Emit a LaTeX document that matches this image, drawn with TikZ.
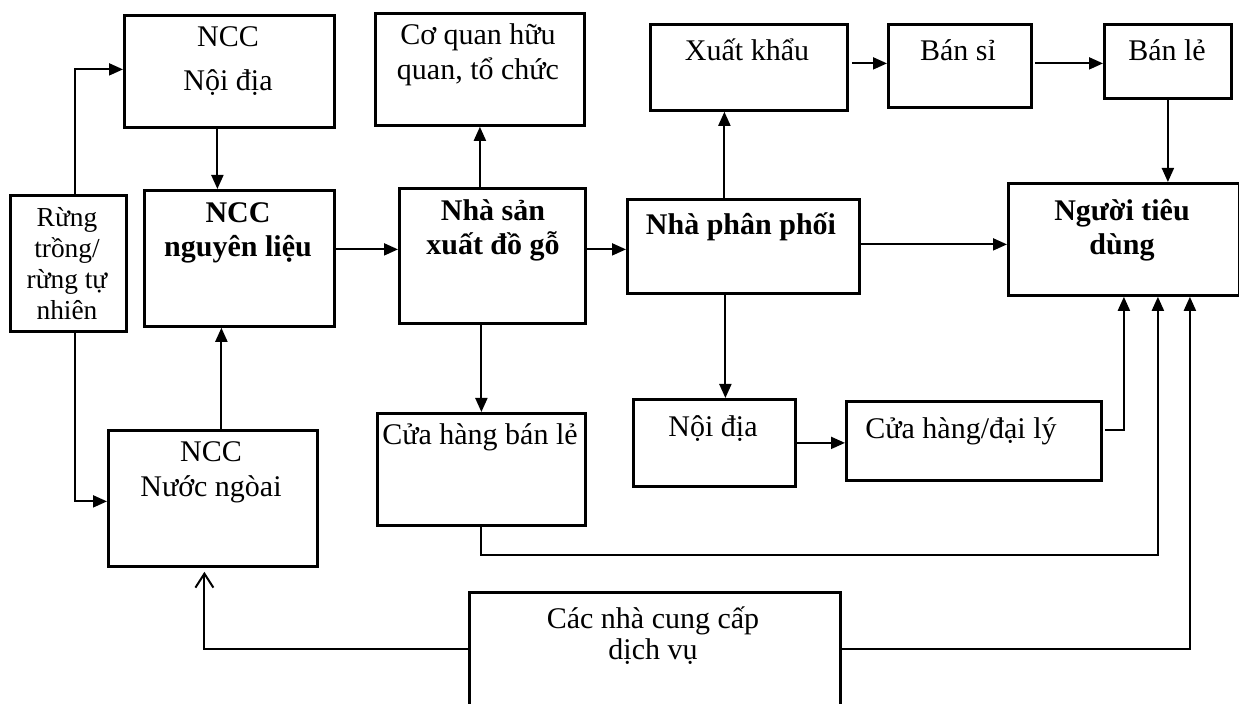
\documentclass[tikz,border=0pt]{standalone}
\usepackage{fontspec}
\setmainfont{Liberation Serif}
\usetikzlibrary{arrows.meta}

\tikzset{
  box/.style={draw, line width=1.4pt, inner sep=0pt, anchor=north west},
  txt/.style={align=center, inner sep=0pt, anchor=base, font=\fontsize{15}{17.5}\selectfont},
  bold/.style={font=\fontsize{15}{17}\selectfont\bfseries},
  link/.style={line width=1pt},
  arr/.style={link, -{Triangle[length=7pt,width=6pt]}},
  openarr/.style={link, -{Straight Barb[length=7pt,width=9pt]}},
}

\begin{document}
\begin{tikzpicture}[x=0.5pt, y=-0.5pt]
\clip (0,0) rectangle (1239,704);
\fill[white] (0,0) rectangle (1239,704);

% ---- boxes ----
\node[box, minimum width=105pt,   minimum height=56pt]   (ncd)  at (123,14)  {};
\node[box, minimum width=58pt,    minimum height=68pt]   (rung) at (9,194)   {};
\node[box, minimum width=95pt,    minimum height=68pt]   (ncl)  at (143,189) {};
\node[box, minimum width=104.5pt, minimum height=68pt]   (nnn)  at (107,429) {};
\node[box, minimum width=104.5pt, minimum height=56pt]   (cq)   at (374,12)  {};
\node[box, minimum width=93pt,    minimum height=67.5pt] (nsx)  at (398,187) {};
\node[box, minimum width=104pt,   minimum height=56pt]   (chbl) at (376,412) {};
\node[box, minimum width=98.5pt,  minimum height=43pt]   (xk)   at (649,23)  {};
\node[box, minimum width=116pt,   minimum height=47pt]   (npp)  at (626,198) {};
\node[box, minimum width=81pt,    minimum height=43.5pt] (nd)   at (632,398) {};
\node[box, minimum width=127.5pt, minimum height=39.5pt] (chdl) at (845,400) {};
\node[box, minimum width=71.5pt,  minimum height=41.5pt] (bs)   at (887,23)  {};
\node[box, minimum width=63.5pt,  minimum height=37pt]   (bl)   at (1103,23) {};
\node[box, minimum width=115.5pt, minimum height=56pt]   (ntd)  at (1007,182) {};
\node[box, minimum width=185.5pt, minimum height=70pt]   (dv)   at (468,591) {};

% ---- labels (anchored at the baseline of the last line) ----
\node[txt, font=\fontsize{15}{22}\selectfont] (t-ncd) at (228,91) {NCC\\Nội địa};
\node[txt, font=\fontsize{13.7}{15.5}\selectfont] (t-rung) at (67,320) {Rừng\\trồng/\\rừng tự\\nhiên};
\node[txt, bold] (t-ncl) at (238,257) {NCC\\nguyên liệu};
\node[txt] (t-nnn) at (211,497) {NCC\\Nước ngòai};
\node[txt] (t-cq) at (478,80) {Cơ quan hữu\\quan, tổ chức};
\node[txt, bold] (t-nsx) at (493,255) {Nhà sản\\xuất đồ gỗ};
\node[txt] (t-chbl) at (480,445) {Cửa hàng bán lẻ};
\node[txt] (t-xk) at (747,61) {Xuất khẩu};
\node[txt, bold] (t-npp) at (741,235) {Nhà phân phối};
\node[txt] (t-nd) at (713,437) {Nội địa};
\node[txt, anchor=base west] (t-chdl) at (865,439) {Cửa hàng/đại lý};
\node[txt] (t-bs) at (958,61) {Bán sỉ};
\node[txt] (t-bl) at (1167,61) {Bán lẻ};
\node[txt, bold] (t-ntd) at (1122,255) {Người tiêu\\dùng};
\node[txt, font=\fontsize{15}{15.5}\selectfont] (t-dv) at (653,660) {Các nhà cung cấp\\dịch vụ};

% ---- connection points ----
\coordinate (a1) at ([xshift=3.5pt]rung.north);
\coordinate (a2) at ([xshift=3.5pt]rung.south);
\coordinate (b1) at ([xshift=-6pt]ncd.south);
\coordinate (c1) at ([xshift=4.25pt]nnn.north);
\coordinate (e1) at ([yshift=4.5pt]ncl.east);
\coordinate (f1) at ([yshift=3.25pt]nsx.east);
\coordinate (i1) at ([xshift=-9.5pt]npp.north);
\coordinate (j1) at ([xshift=-9pt]npp.south);
\coordinate (k1) at ([xshift=1.5pt, yshift=2pt]xk.east);
\coordinate (l1) at ([xshift=1pt, yshift=1.25pt]bs.east);
\coordinate (n1) at ([yshift=1pt]npp.east);
\coordinate (p1) at ([xshift=1pt, yshift=5.25pt]chdl.east);
\coordinate (q0) at ([xshift=17pt]ntd.south);
\coordinate (r0) at ([xshift=33pt]ntd.south);
\coordinate (dvE) at ([yshift=-29pt]dv.north east);
\coordinate (dvW) at ([yshift=-29pt]dv.north west);
\coordinate (s0) at ([xshift=-4.25pt, yshift=-2pt]nnn.south);

% ---- connectors ----
\draw[arr] (a1) |- ([yshift=1pt]ncd.west);
\draw[arr] (a2) |- ([yshift=-1.5pt]nnn.west);
\draw[arr] (b1) -- (b1 |- ncl.north);
\draw[arr] (c1) -- (c1 |- ncl.south);
\draw[arr] (e1) -- (e1 -| nsx.west);
\draw[arr] (f1) -- (f1 -| npp.west);
\draw[arr] (cq.south |- nsx.north) -- (cq.south);
\draw[arr] (chbl.north |- nsx.south) -- (chbl.north);
\draw[arr] (i1) -- (i1 |- xk.south);
\draw[arr] (j1) -- (j1 |- nd.north);
\draw[arr] (k1) -- (k1 -| bs.west);
\draw[arr] (l1) -- (l1 -| bl.west);
\draw[arr] (bl.south) -- (bl.south |- ntd.north);
\draw[arr] (n1) -- (n1 -| ntd.west);
\draw[arr] (nd.east) -- (nd.east -| chdl.west);
\draw[arr] (p1) -| (ntd.south);
\draw[arr] (chbl.south) -- ++(0,28) -| (q0);
\draw[arr] (dvE) -| (r0);
\draw[openarr] (dvW) -| (s0);
\end{tikzpicture}
\end{document}
